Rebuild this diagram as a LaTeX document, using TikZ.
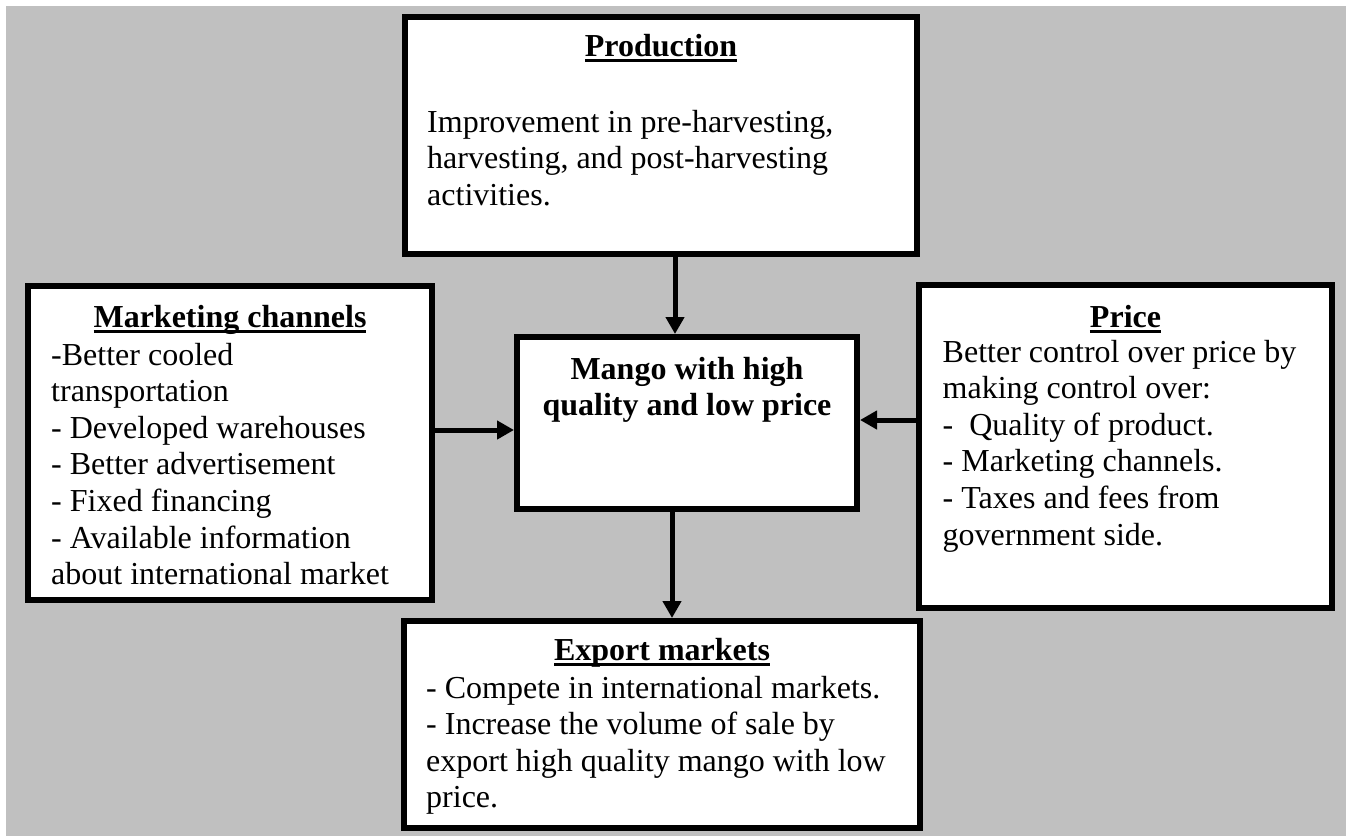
\documentclass[tikz,border=0pt]{standalone}
\usepackage{fontspec}
\setmainfont{Liberation Serif}
\usetikzlibrary{arrows.meta}
\definecolor{panelgray}{RGB}{192,192,192}
% bold heading with a fixed-depth underline
\newcommand\titleline[1]{\setbox0=\hbox{#1}\rlap{\rule[-6.4pt]{\wd0}{3.4pt}}\box0}
% left-aligned body block whose anchor is the first baseline
\newcommand\bodytext[2]{\parbox[t]{#1}{\raggedright #2}}
% centred block whose anchor is the first baseline
\newcommand\centretext[2]{\parbox[t]{#1}{\centering #2}}
\begin{document}
\begin{tikzpicture}[x=1pt,y=-1pt,
  box/.style={draw=black,line width=6pt,fill=white,inner sep=0pt,anchor=north west},
  txt/.style={inner sep=0pt,anchor=base west,font=\fontsize{32pt}{36.6pt}\selectfont},
  ttl/.style={inner sep=0pt,anchor=base,font=\fontsize{32pt}{36.6pt}\selectfont\bfseries},
  arr/.style={line width=5pt,-{Triangle[length=17pt,width=18pt]}}]
\useasboundingbox (0,0) rectangle (1346,836);
\fill[white] (0,0) rectangle (1346,836);
\fill[panelgray] (6,6) rectangle (1346,836);

% boxes
\node[box,minimum width=512pt,minimum height=237pt] (prod) at (402,14) {};
\node[box,minimum width=404pt,minimum height=314pt] (mkt) at (25,283) {};
\node[box,minimum width=340pt,minimum height=172pt] (mango) at (514,334) {};
\node[box,minimum width=413pt,minimum height=323pt] (price) at (916,282) {};
\node[box,minimum width=516pt,minimum height=207pt] (export) at (401,618) {};

% texts
\node[ttl] (prodT) at (661,56) {\titleline{Production}};
\node[txt] (prodB) at (427,132) {\bodytext{480pt}{Improvement in pre-harvesting,\\
harvesting, and post-harvesting\\
activities.}};

\node[ttl] (mktT) at (230,327) {\titleline{Marketing channels}};
\node[txt] (mktB) at (51,365) {\bodytext{380pt}{-Better cooled\\
transportation\\
- Developed warehouses\\
- Better advertisement\\
- Fixed financing\\
- Available information\\
about international market}};

\node[ttl] (mangoT) at (687,379) {\centretext{340pt}{Mango with high\\quality and low price}};

\node[ttl] (priceT) at (1125.5,327) {\titleline{Price}};
\node[txt] (priceB) at (942.5,362) {\bodytext{385pt}{Better control over price by\\
making control over:\\
-\ \ Quality of product.\\
- Marketing channels.\\
- Taxes and fees from\\
government side.}};

\node[ttl] (exportT) at (662,660) {\titleline{Export markets}};
\node[txt] (exportB) at (426,698) {\bodytext{490pt}{- Compete in international markets.\\
- Increase the volume of sale by\\
export high quality mango with low\\
price.}};

% connectors
\coordinate (topx) at (675,0);
\coordinate (botx) at (672,0);
\coordinate (lefty) at (0,430);
\coordinate (righty) at (0,420);
\draw[arr] (prod.south -| topx) -- (mango.north -| topx);
\draw[arr] (mkt.east |- lefty) -- (mango.west |- lefty);
\draw[arr] (price.west |- righty) -- (mango.east |- righty);
\draw[arr] (mango.south -| botx) -- (export.north -| botx);
\end{tikzpicture}
\end{document}
